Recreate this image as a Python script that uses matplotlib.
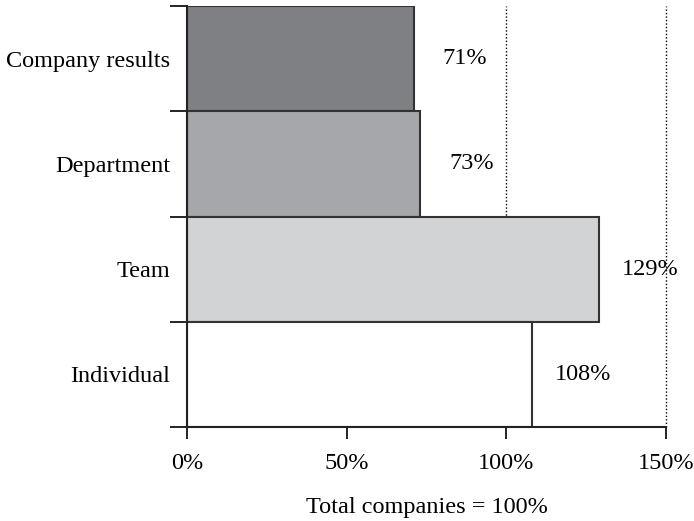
import numpy as np
import matplotlib
matplotlib.use('Agg')
import matplotlib.pyplot as plt

categories = ['Company results', 'Department', 'Team', 'Individual']
values = [71, 73, 129, 108]
labels = ['71%', '73%', '129%', '108%']
colors = ['#7f8084', '#a6a7aa', '#d2d3d5', '#ffffff']
xticks = [0, 50, 100, 150]
xtick_labels = ['0%', '50%', '100%', '150%']

plt.rcParams['font.family'] = ['Liberation Serif', 'DejaVu Serif']
plt.rcParams['font.size'] = 17.5

fig = plt.figure(figsize=(6.94, 5.21), dpi=100)
ax = fig.add_axes([0.2695, 0.1804, 0.6902, 0.808])

pos = np.arange(len(categories))[::-1]
for x in [100, 150]:
	ax.axvline(x, color='black', linestyle=(0, (1, 1.5)), linewidth=1, zorder=1, clip_on=False)
ax.barh(pos, values, height=1.0, color=colors, edgecolor='#333333', linewidth=1.5, zorder=2)

for p, v, l in zip(pos, values, labels):
	ax.text(v + 16, p, l, ha='center', va='center', zorder=3)

ax.set_xlim(0, 150)
ax.set_ylim(-0.5, len(categories) - 0.5)
ax.set_xticks(xticks)
ax.set_xticklabels(xtick_labels)
ax.set_yticks(pos)
ax.set_yticklabels(categories)
ax.set_yticks(np.arange(len(categories) + 1) - 0.5, minor=True)
ax.tick_params(axis='y', which='major', length=0, pad=12)
ax.tick_params(axis='y', which='minor', length=12, width=1.2)
ax.tick_params(axis='x', length=8.5, width=1.2, pad=10)
ax.set_xlabel('Total companies = 100%', labelpad=17)

for s in ['top', 'right']:
	ax.spines[s].set_visible(False)
for s in ['left', 'bottom']:
	ax.spines[s].set_linewidth(1.5)
	ax.spines[s].set_color('#222222')

fig.savefig('out.png', dpi=100)
